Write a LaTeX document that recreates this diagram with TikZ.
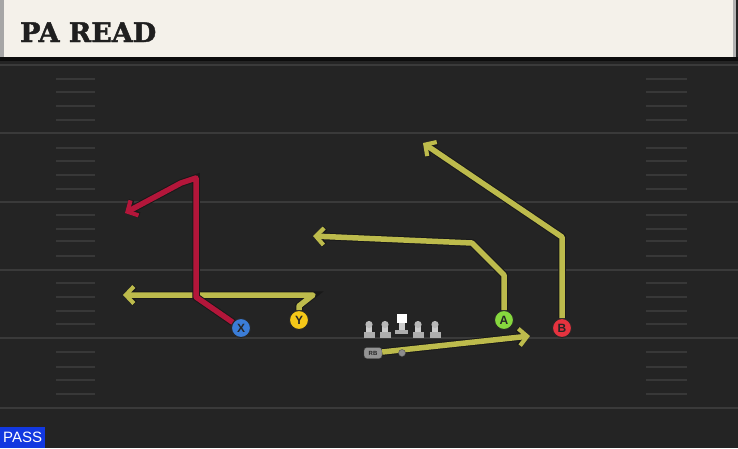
\documentclass[tikz,border=0pt]{standalone}
\usepackage{fontspec}
\setmainfont{DejaVu Serif}
\newfontfamily\titlefont{DejaVu Serif}[BoldFeatures={FakeBold=1.6}]
\newfontfamily\labelfont{Liberation Sans}
\usetikzlibrary{arrows.meta}

\definecolor{field}{HTML}{242424}
\definecolor{yardline}{HTML}{3A3A3A}
\definecolor{hashmark}{HTML}{383838}
\definecolor{header}{HTML}{F4F1EA}
\definecolor{routeyel}{HTML}{BDBB4C}
\definecolor{routered}{HTML}{B3163A}
\definecolor{xblue}{HTML}{3B7DD8}
\definecolor{yyellow}{HTML}{F5C818}
\definecolor{agreen}{HTML}{86D83E}
\definecolor{bred}{HTML}{E5333F}
\definecolor{passblue}{HTML}{1238E0}
\definecolor{lineman}{HTML}{CDCDCD}

\begin{document}
\begin{tikzpicture}[x=1pt,y=-1pt,
    >={Straight Barb[length=8pt,width=17pt,line width=0pt 0.75]},
    route/.style={->,line width=5.5pt,draw=routeyel,line join=round,
      preaction={draw=black!90,line width=7.5pt}},
    player/.style={circle,minimum size=19pt,inner sep=0pt,draw=black!85,
      line width=1pt,text=black!85,font=\labelfont\bfseries\fontsize{12}{12}\selectfont},
    yard/.style={draw=yardline,line width=2pt},
    hash/.style={draw=hashmark,line width=1.6pt}]
  \useasboundingbox (0,0) rectangle (738,448);
  \fill[field] (0,0) rectangle (738,448);
  \fill[header] (4,0) rectangle (735,57);
  \fill[black!35] (0,0) rectangle (4,57);
  \fill[black!30] (733,0) rectangle (736,57);
  \fill[black!95] (0,57) rectangle (738,61);
  \node[anchor=base west,inner sep=0pt,text=black!88,
    font=\titlefont\bfseries\fontsize{27}{27}\selectfont] (title) at (20,42) {PA READ};

  \foreach \y in {65,133,202,270,338,408}
    \draw[yard] (0,\y) -- (738,\y);
  \foreach \y in {79,92,106,120,148,161,175,189,215,229,241,256,283,297,311,324,352,367,380,394} {
    \draw[hash] (56,\y) -- (95,\y);
    \draw[hash] (646,\y) -- (687,\y);
  }

  \node[player,fill=xblue] (X) at (241,328) {X};
  \node[player,fill=yyellow] (Y) at (299,320) {Y};
  \node[player,fill=agreen] (A) at (504,320) {A};
  \node[player,fill=bred] (B) at (562,328) {B};
  \node[rounded corners=3pt,fill=black!42,draw=black!70,minimum width=18pt,
    minimum height=11pt,inner sep=0pt,text=black!85,
    font=\labelfont\bfseries\fontsize{6}{6}\selectfont] (RB) at (373,353) {RB};

  \coordinate (ys) at (299,306);
  \coordinate (yc) at (313,295);
  \coordinate (ye) at (123,295);
  \coordinate (as) at (504,275);
  \coordinate (ac) at (472,243);
  \coordinate (ae) at (313,236);
  \coordinate (bc) at (562,237);
  \coordinate (be) at (423,143);
  \coordinate (x1) at (196,297);
  \coordinate (x2) at (196,178);
  \coordinate (x3) at (181,183);
  \coordinate (xe) at (125,213);
  \coordinate (rbe) at (530,336);

  \draw[route] (Y) -- (ys) -- (yc) -- (ye);
  \draw[route] (A) -- (as) -- (ac) -- (ae);
  \draw[route] (B) -- (bc) -- (be);
  \draw[route,draw=routered] (X) -- (x1) -- (x2) -- (x3) -- (xe);
  \draw[route] (RB) -- (rbe);

  \foreach \x in {369,385,418,435} {
    \fill[lineman!85!black] (\x-5.5,331.5) rectangle (\x+5.5,337.5);
    \fill[lineman] (\x-3,325) rectangle (\x+3,332);
    \fill[lineman!90!black] (\x,324.5) circle (3.6);
  }
  \fill[lineman!85!black] (395,329.5) rectangle (408,334);
  \fill[lineman] (399,322) rectangle (404.5,330);
  \fill[white] (397,314) rectangle (407,323);
  \node[circle,fill=black!45,draw=black!70,inner sep=0pt,minimum size=7pt] (ball) at (402,353) {};

  \node[fill=passblue,text=white,inner sep=0pt,minimum width=45pt,minimum height=21pt,
    anchor=south west,font=\labelfont\fontsize{15}{15}\selectfont] (pass) at (0,448) {PASS};
\end{tikzpicture}
\end{document}
